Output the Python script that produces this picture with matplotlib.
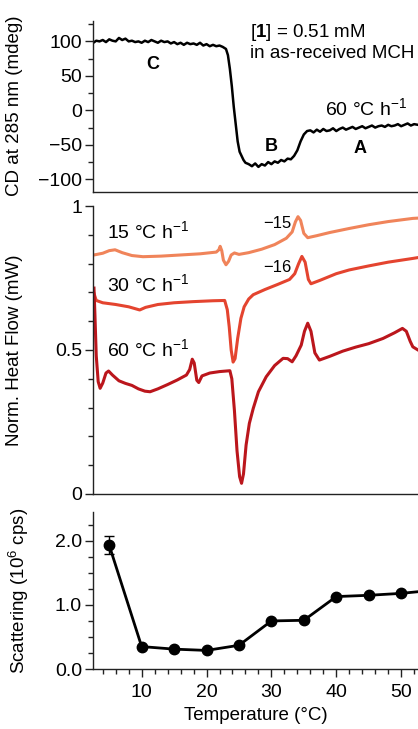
import numpy as np
import matplotlib
matplotlib.use("Agg")
import matplotlib.pyplot as plt
from matplotlib.ticker import MultipleLocator, FixedLocator

plt.rcParams["font.family"] = ["Liberation Sans", "DejaVu Sans"]
plt.rcParams["mathtext.fontset"] = "custom"
plt.rcParams["mathtext.rm"] = "Liberation Sans"
plt.rcParams["mathtext.bf"] = "Liberation Sans:bold"
plt.rcParams["axes.unicode_minus"] = True

# CD trace at 285 nm, 60 °C/h
cd_temp = [2.7, 3.0, 3.5, 4.0, 4.5, 5.0, 5.5, 6.0, 6.5, 7.0, 7.5, 8.0, 8.5, 9.0,
           9.5, 10.0, 10.5, 11.0, 11.5, 12.0, 12.5, 13.0, 13.5, 14.0, 14.5, 15.0,
           15.5, 16.0, 16.5, 17.0, 17.5, 18.0, 18.5, 19.0, 19.5, 20.0, 20.5, 21.0,
           21.5, 22.0, 22.5, 23.0, 23.3, 23.6, 23.9, 24.2, 24.5, 24.8, 25.1, 25.4,
           25.7, 26.0, 26.5, 27.0, 27.5, 28.0, 28.5, 29.0, 29.5, 30.0, 30.5, 31.0,
           31.5, 32.0, 32.5, 33.0, 33.5, 34.0, 34.5, 35.0, 35.5, 36.0, 36.5, 37.0,
           37.5, 38.0, 38.5, 39.0, 39.5, 40.0, 40.5, 41.0, 41.5, 42.0, 42.5, 43.0,
           43.5, 44.0, 44.5, 45.0, 45.5, 46.0, 46.5, 47.0, 47.5, 48.0, 48.5, 49.0,
           49.5, 50.0, 50.5, 51.0, 51.5, 52.0, 52.6]
cd_mdeg = [99, 101, 100, 102, 99, 103, 101, 100, 105, 102, 104, 100, 101, 99,
           100, 98, 101, 99, 102, 100, 98, 101, 99, 100, 97, 99,
           96, 98, 95, 98, 96, 97, 95, 98, 94, 96, 93, 95,
           93, 94, 92, 89, 80, 60, 35, 5, -20, -45, -60, -66,
           -72, -76, -78, -81, -77, -82, -78, -80, -75, -78, -74, -76,
           -72, -74, -70, -71, -66, -58, -45, -35, -30, -29, -32, -28,
           -31, -27, -30, -29, -26, -30, -27, -25, -28, -26, -24, -27,
           -25, -23, -26, -24, -22, -25, -23, -22, -24, -21, -23, -22,
           -20, -23, -21, -19, -22, -20, -21]

# DSC traces (normalised heat flow)
dsc15_temp = [2.65, 4.0, 5.0, 5.9, 7.0, 8.5, 10.2, 13.0, 16.0, 19.0, 21.5, 21.9,
              22.1, 22.35, 22.6, 23.0, 23.4, 23.8, 24.3, 25.0, 26.5, 28.5, 30.5,
              32.3, 33.2, 33.7, 34.1, 34.5, 35.0, 35.6, 37.0, 39.0, 42.0, 45.0,
              48.0, 51.8, 52.6]
dsc15_hf = [0.830, 0.836, 0.845, 0.848, 0.838, 0.828, 0.824, 0.826, 0.830, 0.834,
            0.840, 0.848, 0.860, 0.845, 0.812, 0.796, 0.808, 0.830, 0.837, 0.832,
            0.838, 0.850, 0.866, 0.888, 0.910, 0.945, 0.963, 0.950, 0.905, 0.890,
            0.897, 0.908, 0.922, 0.935, 0.946, 0.957, 0.958]

dsc30_temp = [2.6, 3.0, 4.0, 6.0, 8.0, 9.7, 10.6, 12.5, 15.0, 18.0, 21.0, 22.8,
              23.2, 23.5, 23.8, 24.1, 24.4, 24.8, 25.3, 25.8, 26.5, 27.2, 29.0,
              31.0, 32.8, 33.6, 34.2, 34.7, 35.2, 35.7, 36.1, 37.5, 40.0, 42.0,
              45.0, 48.0, 51.8, 52.6]
dsc30_hf = [0.700, 0.672, 0.664, 0.658, 0.650, 0.639, 0.648, 0.658, 0.664, 0.668,
            0.671, 0.672, 0.640, 0.580, 0.500, 0.458, 0.470, 0.540, 0.610, 0.650,
            0.677, 0.692, 0.710, 0.728, 0.745, 0.765, 0.800, 0.825, 0.805, 0.745,
            0.730, 0.742, 0.765, 0.778, 0.792, 0.805, 0.818, 0.821]

dsc60_temp = [2.65, 2.8, 3.0, 3.3, 3.6, 4.0, 4.5, 4.9, 5.5, 6.5, 7.5, 8.5, 9.5,
              10.5, 11.3, 12.5, 14.0, 15.5, 16.9, 17.4, 17.8, 18.1, 18.5, 18.8,
              19.3, 20.5, 22.0, 23.6, 23.9, 24.3, 24.7, 25.1, 25.4, 25.7, 26.1,
              26.6, 27.2, 28.0, 29.2, 30.5, 31.8, 32.5, 33.2, 33.8, 34.6, 35.1,
              35.6, 36.1, 36.7, 37.4, 39.0, 41.0, 43.0, 45.0, 47.2, 49.0, 50.2,
              50.8, 51.4, 51.8, 52.6]
dsc60_hf = [0.715, 0.620, 0.480, 0.390, 0.367, 0.385, 0.420, 0.427, 0.413, 0.393,
            0.384, 0.377, 0.365, 0.357, 0.355, 0.365, 0.380, 0.396, 0.413, 0.432,
            0.468, 0.455, 0.395, 0.387, 0.410, 0.420, 0.425, 0.428, 0.400, 0.290,
            0.150, 0.060, 0.037, 0.070, 0.170, 0.245, 0.297, 0.355, 0.407, 0.446,
            0.471, 0.470, 0.459, 0.480, 0.517, 0.565, 0.593, 0.565, 0.490, 0.465,
            0.478, 0.496, 0.510, 0.522, 0.540, 0.560, 0.575, 0.565, 0.530, 0.511,
            0.500]

# light scattering
sc_temp = [5, 10, 15, 20, 25, 30, 35, 40, 45, 50, 55]
sc_val = [1.93, 0.35, 0.31, 0.29, 0.37, 0.75, 0.76, 1.13, 1.15, 1.18, 1.23]
sc_err = [0.14, 0, 0, 0, 0, 0, 0, 0, 0, 0, 0]

x_lo, x_hi = 2.5, 52.6
spine_c = "#222222"
fs = 14      # tick labels
fl = 13.5    # axis labels
ft = 14      # annotations

fig = plt.figure(figsize=(4.18, 7.29), dpi=100)
left, width = 0.2225, 0.7775
ax1 = fig.add_axes([left, 0.737, width, 0.2346])
ax2 = fig.add_axes([left, 0.3224, width, 0.395])
ax3 = fig.add_axes([left, 0.0823, width, 0.2154])

for ax in (ax1, ax2, ax3):
    ax.set_xlim(x_lo, x_hi)
    for s in ("top", "right"):
        ax.spines[s].set_visible(False)
    for s in ("left", "bottom"):
        ax.spines[s].set_color(spine_c)
        ax.spines[s].set_linewidth(1.0)
    ax.tick_params(axis="y", which="major", direction="out", length=6,
                   width=1.0, color=spine_c, labelsize=fs, pad=2)
    ax.tick_params(axis="y", which="minor", direction="out", length=3.5,
                   width=1.0, color=spine_c)
    ax.yaxis.set_label_coords(-0.215, 0.5)

for ax in (ax1, ax2):
    ax.set_xticks([])
    ax.xaxis.set_minor_locator(FixedLocator([]))

# top: CD
ax1.plot(cd_temp, cd_mdeg, color="black", lw=1.8)
ax1.set_ylim(-118, 130)
ax1.set_yticks([-100, -50, 0, 50, 100])
ax1.yaxis.set_minor_locator(MultipleLocator(25))
ax1.set_ylabel("CD at 285 nm (mdeg)", fontsize=fl)
ax1.text(26.65, 113.5, r"[$\mathbf{1}$] = 0.51 mM", fontsize=13.5, va="center")
ax1.text(26.65, 83, "in as-received MCH", fontsize=13.5, va="center")
ax1.text(38.2, 2, r"60 °C h$^{-1}$", fontsize=ft, va="center")
ax1.text(11.7, 67, "C", fontsize=13, fontweight="bold", ha="center", va="center")
ax1.text(30.0, -52, "B", fontsize=13, fontweight="bold", ha="center", va="center")
ax1.text(43.6, -56, "A", fontsize=13, fontweight="bold", ha="center", va="center")

# middle: DSC
lw = 2.2
ax2.plot(dsc15_temp, dsc15_hf, color="#F0845A", lw=lw, solid_joinstyle="round")
ax2.plot(dsc30_temp, dsc30_hf, color="#E4442F", lw=lw, solid_joinstyle="round")
ax2.plot(dsc60_temp, dsc60_hf, color="#BB161C", lw=lw, solid_joinstyle="round")
ax2.set_ylim(0, 1)
ax2.set_yticks([0, 0.5, 1])
ax2.set_yticklabels(["0", "0.5", "1"])
ax2.yaxis.set_minor_locator(MultipleLocator(0.1))
ax2.set_ylabel("Norm. Heat Flow (mW)", fontsize=fl)
ax2.text(4.6, 0.910, r"15 °C h$^{-1}$", fontsize=ft, va="center")
ax2.text(4.6, 0.726, r"30 °C h$^{-1}$", fontsize=ft, va="center")
ax2.text(4.6, 0.500, r"60 °C h$^{-1}$", fontsize=ft, va="center")
ax2.text(28.7, 0.941, "−15", fontsize=12, va="center")
ax2.text(28.7, 0.785, "−16", fontsize=12, va="center")

# bottom: scattering
ax3.plot(sc_temp, sc_val, color="black", lw=2.0, marker="o", ms=7.5,
         clip_on=True)
ax3.errorbar(sc_temp[:1], sc_val[:1], yerr=sc_err[:1], fmt="none",
             ecolor="black", elinewidth=1.0, capsize=3.5, capthick=1.0)
ax3.set_ylim(0, 2.45)
ax3.set_yticks([0, 1, 2])
ax3.set_yticklabels(["0.0", "1.0", "2.0"])
ax3.yaxis.set_minor_locator(MultipleLocator(0.25))
ax3.set_xticks([10, 20, 30, 40, 50])
ax3.xaxis.set_minor_locator(MultipleLocator(2))
ax3.tick_params(axis="x", which="major", direction="out", length=6, width=1.0,
                color=spine_c, labelsize=fs, pad=5)
ax3.tick_params(axis="x", which="minor", direction="out", length=3.5,
                width=1.0, color=spine_c)
ax3.set_ylabel("Scattering (10$^{6}$ cps)", fontsize=fl)
ax3.yaxis.set_label_coords(-0.19, 0.5)
ax3.set_xlabel("Temperature (°C)", fontsize=fl, labelpad=4)

fig.savefig("out.png", dpi=100)
